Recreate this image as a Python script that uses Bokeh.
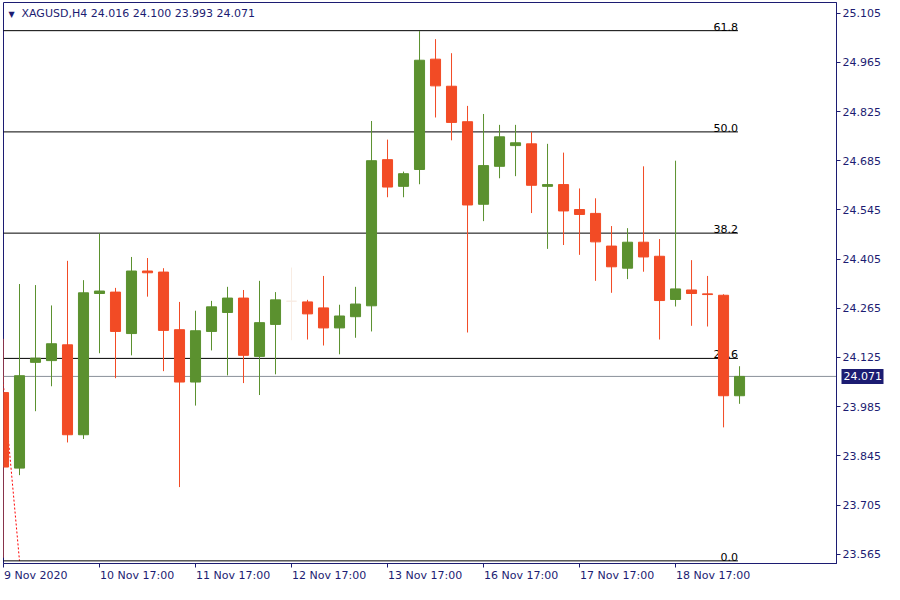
from bokeh.plotting import figure
from bokeh.models import (Range1d, FixedTicker, Label, Span, NumeralTickFormatter,
                          ColumnDataSource, LinearAxis)
from bokeh.embed import file_html
from bokeh.resources import INLINE
from bokeh.core.properties import value

# ---- data (XAGUSD H4) ----
opens = [24.025, 23.810, 24.111, 24.116, 24.161, 23.905, 24.307, 24.311, 24.193, 24.371,
         24.368, 24.204, 24.055, 24.199, 24.253, 24.294, 24.128, 24.219, 24.285, 24.283,
         24.266, 24.209, 24.241, 24.272, 24.688, 24.612, 24.660, 24.974, 24.897, 24.796,
         24.561, 24.669, 24.728, 24.733, 24.612, 24.617, 24.546, 24.535, 24.442, 24.379,
         24.453, 24.413, 24.290, 24.317, 24.306, 24.302, 24.016]
highs = [24.178, 24.334, 24.331, 24.273, 24.400, 24.345, 24.478, 24.323, 24.411, 24.408,
         24.379, 24.283, 24.258, 24.286, 24.326, 24.317, 24.343, 24.311, 24.381, 24.289,
         24.357, 24.275, 24.326, 24.798, 24.745, 24.654, 25.054, 25.031, 24.991, 24.841,
         24.818, 24.787, 24.787, 24.767, 24.733, 24.708, 24.606, 24.578, 24.499, 24.493,
         24.669, 24.462, 24.685, 24.402, 24.357, 24.305, 24.100]
lows = [23.555, 23.790, 23.972, 24.043, 23.883, 23.893, 24.137, 24.066, 24.131, 24.298,
        24.086, 23.756, 23.988, 24.145, 24.074, 24.052, 24.018, 24.077, 24.174, 24.176,
        24.159, 24.134, 24.181, 24.199, 24.581, 24.581, 24.618, 24.808, 24.743, 24.196,
        24.513, 24.635, 24.641, 24.536, 24.434, 24.445, 24.417, 24.343, 24.309, 24.348,
        24.369, 24.176, 24.270, 24.215, 24.213, 23.926, 23.993]
closes = [23.813, 24.073, 24.123, 24.164, 23.905, 24.309, 24.314, 24.199, 24.371, 24.366,
          24.202, 24.055, 24.201, 24.269, 24.294, 24.131, 24.224, 24.289, 24.285, 24.249,
          24.209, 24.243, 24.277, 24.685, 24.610, 24.648, 24.971, 24.898, 24.794, 24.559,
          24.671, 24.753, 24.736, 24.615, 24.617, 24.542, 24.532, 24.454, 24.383, 24.453,
          24.411, 24.287, 24.320, 24.307, 24.304, 24.016, 24.071]
faded = [18]

x_tick_idx = [0, 6, 12, 18, 24, 30, 36, 42]
x_tick_labels = ["9 Nov 2020", "10 Nov 17:00", "11 Nov 17:00", "12 Nov 17:00",
                 "13 Nov 17:00", "16 Nov 17:00", "17 Nov 17:00", "18 Nov 17:00"]
price_ticks = [23.565, 23.705, 23.845, 23.985, 24.125, 24.265, 24.405, 24.545,
               24.685, 24.825, 24.965, 25.105]

fib_low = 23.546
fib_high = 25.988
fib_ratios = [0.0, 0.236, 0.382, 0.5, 0.618]
fib_labels = ["0.0", "23.6", "38.2", "50.0", "61.8"]
fib_anchor_x = [-3.9, 1.0]
fib_end_x = 45.9

symbol = "XAGUSD,H4"
last_price = closes[-1]

# ---- style ----
NAVY = "#1c1c72"
RED = "#f24b25"
GREEN = "#5b912f"
FADE = "#f8ece3"
FONT = "DejaVu Sans"
FS = 11
PX_PER_BAR = 16.0

X0, X1 = 0.0, 52.06
Y0, Y1 = 23.5385, 25.1353

p = figure(width=884, height=584, x_range=Range1d(X0, X1), y_range=Range1d(Y0, Y1),
           output_backend="svg", toolbar_location=None, y_axis_location="right",
           x_axis_location=None,
           min_border_left=3, min_border_top=2, min_border_right=0, min_border_bottom=0)
p.grid.visible = False
p.outline_line_color = NAVY
p.outline_line_width = 1
p.background_fill_color = "white"
p.border_fill_color = "white"

yax = p.yaxis[0]
yax.ticker = FixedTicker(ticks=price_ticks)
yax.formatter = NumeralTickFormatter(format="0.000")
yax.major_tick_out = 4
yax.major_tick_in = 0
yax.minor_tick_out = 0
yax.minor_tick_in = 0
yax.major_label_standoff = 2
yax.axis_line_color = NAVY
yax.major_tick_line_color = NAVY
yax.major_label_text_color = NAVY
yax.major_label_text_font = FONT
yax.major_label_text_font_size = "%dpx" % FS

# price tag: an outer axis whose single (inward) tick forms the navy box
tag_ax = LinearAxis(ticker=FixedTicker(ticks=[last_price]),
                    formatter=NumeralTickFormatter(format="0.000"),
                    major_tick_out=0, major_tick_in=42, major_tick_line_width=15,
                    major_tick_line_color=NAVY, major_tick_line_cap="butt",
                    minor_tick_out=0, minor_tick_in=0, axis_line_color=None,
                    major_label_standoff=-40, major_label_text_color="white",
                    major_label_text_font=FONT, major_label_text_font_size="%dpx" % FS)
p.add_layout(tag_ax, "right")

# time axis: small marks at the bars (minor ticks), labels left-aligned to them
ADV = {"0": .636, "1": .636, "2": .636, "3": .636, "4": .636, "5": .636, "6": .636,
       "7": .636, "8": .636, "9": .636, " ": .318, ":": .337, "N": .748, "o": .612, "v": .592}
def text_w(s):
    return sum(ADV.get(ch, .6) for ch in s) * FS

lab_pos = [t + (text_w(s) / 2 + 0.5) / PX_PER_BAR for t, s in zip(x_tick_idx, x_tick_labels)]
time_ax = LinearAxis(ticker=FixedTicker(ticks=lab_pos, minor_ticks=x_tick_idx),
                     major_label_overrides={pos: s for pos, s in zip(lab_pos, x_tick_labels)},
                     major_tick_out=0, major_tick_in=0, minor_tick_out=4, minor_tick_in=0,
                     minor_tick_line_color=NAVY, major_label_standoff=1,
                     axis_line_color=NAVY, major_tick_line_color=None,
                     major_label_text_color=NAVY, major_label_text_font=FONT,
                     major_label_text_font_size="%dpx" % FS)
p.add_layout(time_ax, "below")

# current price line
p.add_layout(Span(location=last_price, dimension="width", line_color="#8a9199",
                  line_width=1, level="underlay"))

# fibonacci
fib_levels = [fib_low + r * (fib_high - fib_low) for r in fib_ratios]
p.line(x=fib_anchor_x, y=[fib_high, fib_low], line_color="#ff0000", line_width=1, line_dash="2 2")
p.segment(x0=[X0 - 1] * len(fib_levels), y0=fib_levels, x1=[fib_end_x] * len(fib_levels),
          y1=fib_levels, line_color="black", line_width=1)
p.text(x=[fib_end_x] * len(fib_levels), y=fib_levels, text=fib_labels, text_align="right",
       text_baseline="bottom", text_font=value(FONT), text_font_size="%dpx" % FS,
       text_color="black")

# candles
n = len(opens)
colors = []
for i in range(n):
    if i in faded:
        colors.append(FADE)
    elif closes[i] >= opens[i]:
        colors.append(GREEN)
    else:
        colors.append(RED)
src = ColumnDataSource(dict(
    x=list(range(n)), h=highs, l=lows,
    top=[max(o, c) for o, c in zip(opens, closes)],
    bottom=[min(o, c) for o, c in zip(opens, closes)],
    color=colors))
p.segment(x0="x", y0="h", x1="x", y1="l", line_color="color", line_width=1, source=src)
p.vbar(x="x", width=0.63, top="top", bottom="bottom", fill_color="color",
       line_color="color", line_width=1, source=src)

# header
p.add_layout(Label(x=X0, y=Y1, x_offset=5, y_offset=-7, text="\u25BC", text_baseline="top",
                   text_font=FONT, text_font_size="8px", text_color=NAVY))
header = "%s  %.3f %.3f %.3f %.3f" % (symbol, opens[-1], highs[-1], lows[-1], closes[-1])
p.add_layout(Label(x=X0, y=Y1, x_offset=18, y_offset=-4, text=header, text_baseline="top",
                   text_font=FONT, text_font_size="%dpx" % FS, text_color=NAVY))

open("out.html", "w").write(file_html(p, INLINE))
